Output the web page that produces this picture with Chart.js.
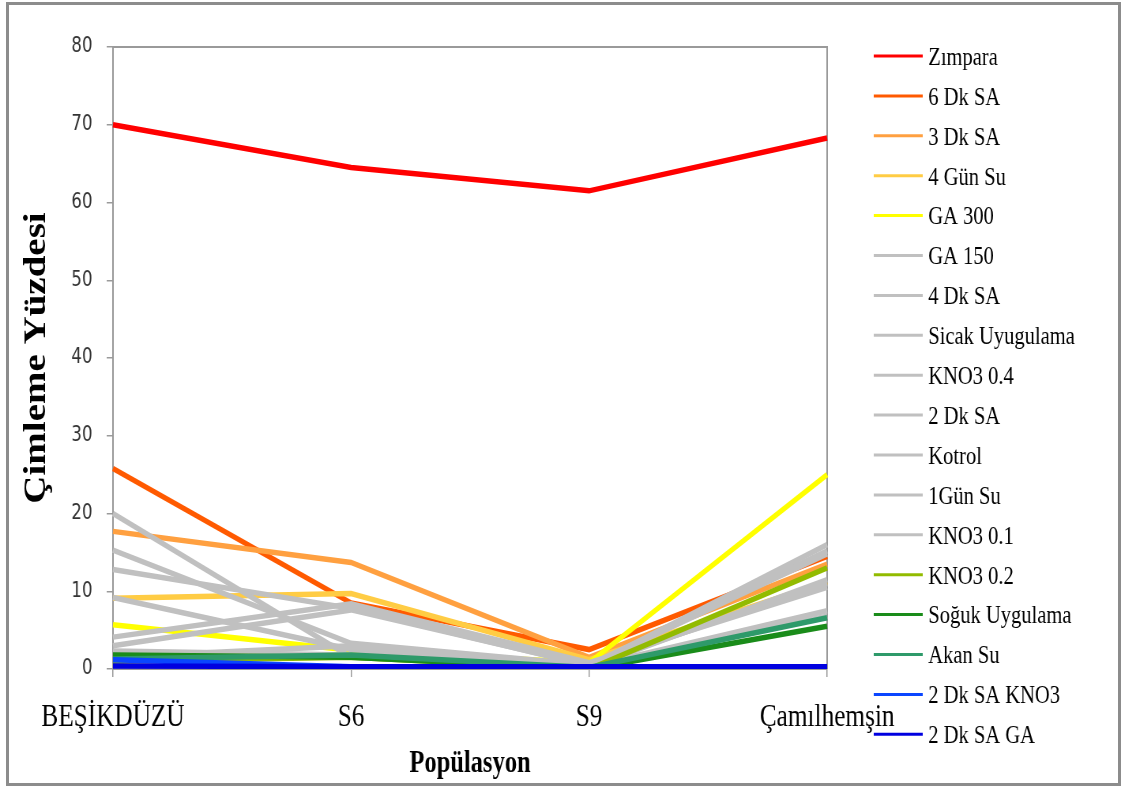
<!DOCTYPE html>
<html>
<head>
<meta charset="utf-8">
<script src="https://cdn.jsdelivr.net/npm/chart.js@4/dist/chart.umd.min.js"></script>
<style>
  html, body { margin: 0; padding: 0; background: #fff; overflow: hidden; }
  #frame {
    position: absolute; left: 6px; top: 2px; width: 1115px; height: 784px;
    box-sizing: border-box; border: 3px solid #8c8c8c; pointer-events: none;
  }
  /* the drawing is laid out wide and then narrowed, giving the condensed lettering */
  #wrap {
    position: absolute; left: 0; top: 0; width: 1419px; height: 787px;
    transform: scaleX(0.79); transform-origin: 0 0;
  }
</style>
</head>
<body>
<div id="wrap"><canvas id="c" width="1419" height="787"></canvas></div>
<div id="frame"></div>
<script>
// Populations (x categories)
const populations = ['BEŞİKDÜZÜ', 'S6', 'S9', 'Çamılhemşin'];

// Germination percentage per treatment, one value per population
const zimpara        = [70.0, 64.5, 61.5, 68.3];
const dk6SA          = [25.8, 8.5, 2.5, 14.5];
const dk3SA          = [17.7, 13.7, 1.5, 13.5];
const gun4Su         = [9.1, 9.7, 1.2, 11.2];
const ga300          = [5.7, 2.4, 0.8, 25.0];
const ga150          = [20.0, 1.5, 0.3, 16.0];
const dk4SA          = [15.3, 3.3, 0.5, 15.2];
const sicakUyg       = [12.8, 7.8, 0.4, 14.8];
const kno3_04        = [9.2, 2.5, 0.2, 11.5];
const dk2SA          = [4.1, 8.4, 0.8, 10.5];
const kotrol         = [3.0, 7.6, 0.5, 11.0];
const gun1Su         = [2.3, 1.8, 0.3, 7.5];
const kno3_01        = [1.5, 3.0, 0.2, 6.8];
const kno3_02        = [1.0, 1.5, 0.0, 13.0];
const sogukUyg       = [1.8, 1.5, 0.0, 5.5];
const akanSu         = [1.3, 1.8, 0.2, 6.6];
const dk2SA_KNO3     = [1.2, 0.3, 0.3, 0.3];
const dk2SA_GA       = [0.4, 0.3, 0.3, 0.3];

// Treatment names, in legend order
const treatments = [
  'Zımpara', '6 Dk SA', '3 Dk SA', '4 Gün Su', 'GA 300', 'GA 150', '4 Dk SA',
  'Sicak Uyugulama', 'KNO3 0.4', '2 Dk SA', 'Kotrol', '1Gün Su', 'KNO3 0.1',
  'KNO3 0.2', 'Soğuk Uygulama', 'Akan Su', '2 Dk SA KNO3', '2 Dk SA GA'
];
const seriesValues = [
  zimpara, dk6SA, dk3SA, gun4Su, ga300, ga150, dk4SA, sicakUyg, kno3_04,
  dk2SA, kotrol, gun1Su, kno3_01, kno3_02, sogukUyg, akanSu, dk2SA_KNO3, dk2SA_GA
];

// Line colours
const GREY = '#c0c0c0';
const lineColors = [
  '#ff0000', '#ff5a00', '#ffa040', '#ffcc44', '#ffff00',
  GREY, GREY, GREY, GREY, GREY, GREY, GREY, GREY,
  '#92bb00', '#1a8c1a', '#2e9a6a', '#0a46ff', '#0000e0'
];

const SERIF = "'Liberation Serif', 'Times New Roman', serif";

const datasets = treatments.map((name, i) => ({
  label: name,
  data: seriesValues[i],
  borderColor: lineColors[i],
  backgroundColor: lineColors[i],
  borderWidth: 5.5,
  pointRadius: 0,
  pointHoverRadius: 0,
  tension: 0,
  fill: false,
  // later series are painted over earlier ones
  order: treatments.length - i
}));

// Grey frame on the top and right of the plot area
const plotFrame = {
  id: 'plotFrame',
  beforeDatasetsDraw(chart) {
    const { ctx, chartArea: a } = chart;
    ctx.save();
    ctx.strokeStyle = '#9a9a9a';
    ctx.lineWidth = 2;
    ctx.beginPath();
    ctx.moveTo(a.left, a.top);
    ctx.lineTo(a.right, a.top);
    ctx.lineTo(a.right, a.bottom);
    ctx.stroke();
    ctx.restore();
  }
};

// Single-column legend to the right of the plot
const sideLegend = {
  id: 'sideLegend',
  afterDraw(chart, args, opts) {
    const ctx = chart.ctx;
    ctx.save();
    ctx.font = opts.font;
    ctx.textBaseline = 'middle';
    ctx.textAlign = 'left';
    chart.data.datasets.forEach((ds, i) => {
      const y = opts.top + i * opts.step;
      ctx.strokeStyle = ds.borderColor;
      ctx.lineWidth = opts.lineWidth;
      ctx.beginPath();
      ctx.moveTo(opts.x0, y);
      ctx.lineTo(opts.x1, y);
      ctx.stroke();
      ctx.fillStyle = '#000';
      ctx.fillText(ds.label, opts.textX, y + 2);
    });
    ctx.restore();
  }
};

new Chart(document.getElementById('c'), {
  type: 'line',
  data: { labels: populations, datasets },
  plugins: [plotFrame, sideLegend],
  options: {
    responsive: false,
    animation: false,
    devicePixelRatio: 1,
    layout: { padding: { top: 47, right: 372, bottom: 0, left: 0 } },
    plugins: {
      legend: { display: false },
      tooltip: { enabled: false },
      sideLegend: {
        top: 56, step: 39.9, x0: 1106, x1: 1168, textX: 1175,
        lineWidth: 3, font: '26px ' + SERIF
      }
    },
    scales: {
      x: {
        type: 'category',
        offset: false,
        afterFit(s) { s.height = 118; },
        grid: {
          drawOnChartArea: false, drawTicks: true, tickLength: 8,
          color: '#9a9a9a', lineWidth: 1.5
        },
        border: { display: true, color: '#9a9a9a', width: 2 },
        ticks: {
          color: '#000', padding: 21, maxRotation: 0, autoSkip: false,
          font: { family: SERIF, size: 32 }
        },
        title: {
          display: true, text: 'Popülasyon', color: '#000',
          font: { family: SERIF, size: 31, weight: 'bold' },
          padding: { top: 0, bottom: 4 }
        }
      },
      y: {
        min: 0, max: 80,
        afterFit(s) { s.width = 143; },
        grid: {
          drawOnChartArea: false, drawTicks: true, tickLength: 8,
          color: '#9a9a9a', lineWidth: 1.5
        },
        border: { display: true, color: '#9a9a9a', width: 2 },
        ticks: {
          stepSize: 10, color: '#333', padding: 18,
          font: { family: "'DejaVu Sans', Verdana, sans-serif", size: 21 }
        },
        title: {
          display: true, text: 'Çimleme Yüzdesi', color: '#000',
          font: { family: SERIF, size: 39, weight: 'bold' },
          padding: { top: 24, bottom: 0 }
        }
      }
    }
  }
});
</script>
</body>
</html>
